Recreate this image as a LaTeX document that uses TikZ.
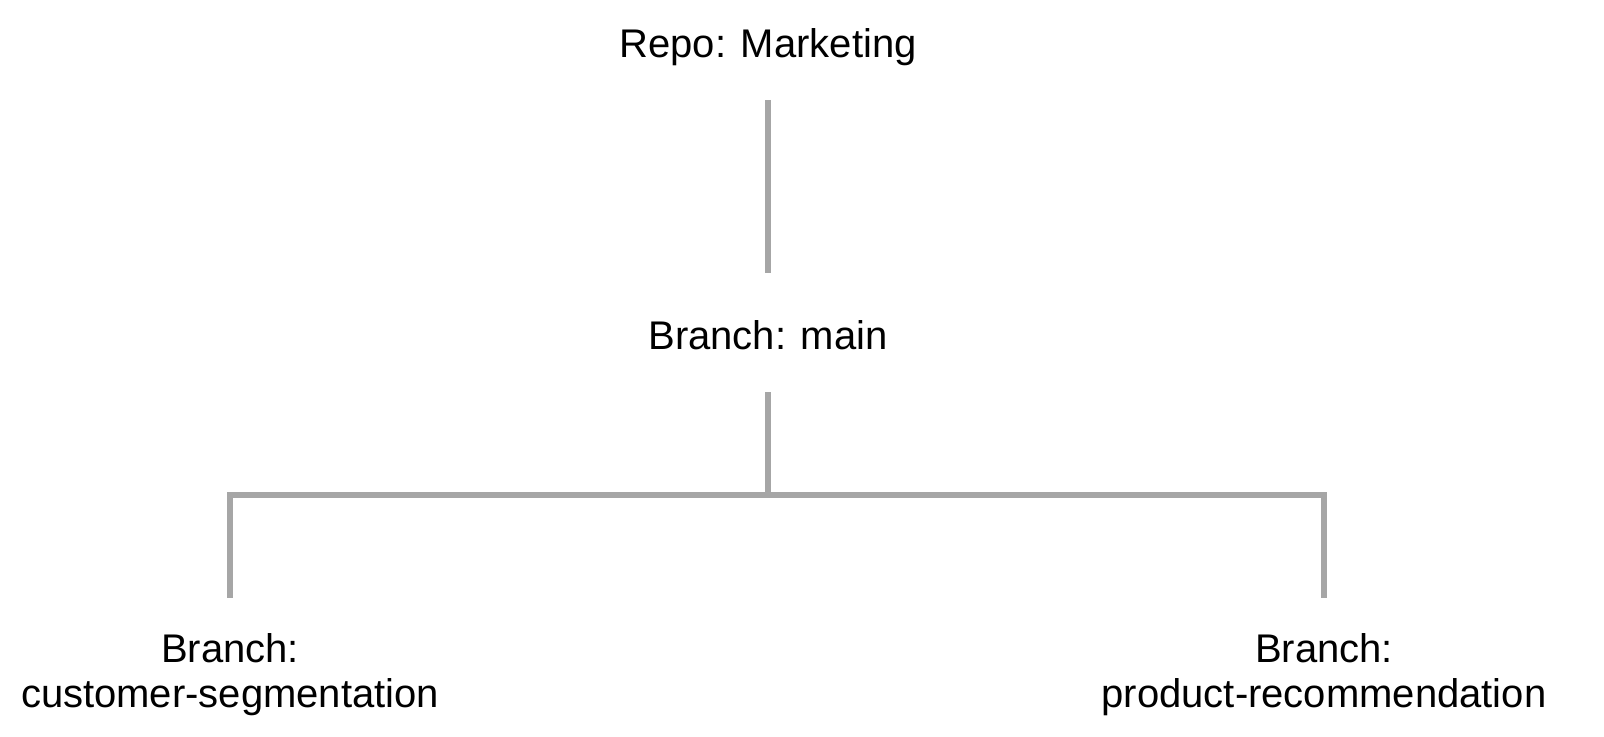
\documentclass[tikz,border=0pt]{standalone}
\usepackage{fontspec}
\setmainfont{Liberation Sans}
\usepackage{tikz}
\usetikzlibrary{positioning}

\begin{document}
\begin{tikzpicture}[x=0.5pt,y=-0.5pt,
        label/.style={inner sep=0pt,outer sep=0pt,font=\fontsize{20}{22.5}\selectfont,align=center},
        link/.style={draw={rgb,255:red,166;green,166;blue,166},line width=3pt}]
        \useasboundingbox (0,0) rectangle (1604,736);

        \node[label,anchor=base] (repo) at (768,57) {Repo: Marketing};
        \node[label,anchor=base] (main) at (768,349) {Branch: main};
        \node[label,anchor=north] (segm) at (230,633) {Branch:\\customer-segmentation};
        \node[label,anchor=north] (recom) at (1324,633) {Branch:\\product-recommendation};
        \coordinate (fork) at (768,495);

        \draw[link,shorten <=17.3pt,shorten >=23.5pt] (repo) -- (main);
        \draw[link,shorten <=21.5pt] (main) -- (fork);
        \draw[link,shorten >=17.5pt] (fork) -| (segm);
        \draw[link,shorten >=17.5pt] (fork) -| (recom);
    \end{tikzpicture}
\end{document}
